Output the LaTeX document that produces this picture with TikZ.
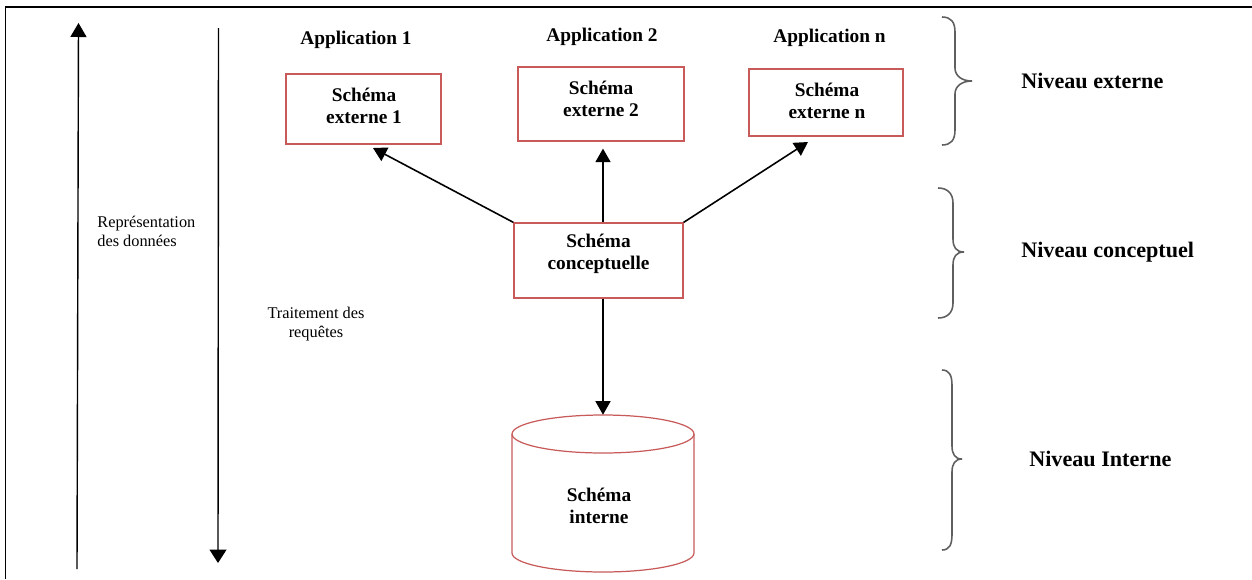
\documentclass[tikz,border=0pt]{standalone}
\usepackage{fontspec}
\setmainfont{Liberation Serif}
\usetikzlibrary{arrows.meta,calc}
\definecolor{boxred}{RGB}{200,90,90}
\definecolor{bracegray}{RGB}{95,95,95}
\tikzset{
  frameline/.style={line width=0.04cm, black},
  schbox/.style={draw=boxred, line width=0.7pt, inner sep=0pt},
  boxtext/.style={font=\fontsize{11}{12.5}\selectfont\bfseries, align=center, inner sep=0pt},
  apptext/.style={font=\fontsize{11}{13}\selectfont\bfseries, inner sep=0pt},
  leveltext/.style={font=\fontsize{12.6}{15}\selectfont\bfseries, anchor=west, inner sep=0pt},
  smalltext/.style={font=\fontsize{9.3}{10.8}\selectfont, inner sep=0pt},
  conn/.style={line width=0.9pt, -{Triangle[width=0.3cm,length=0.27cm]}},
  sideline/.style={line width=0.8pt},
  bracestyle/.style={draw=bracegray, line width=0.9pt},
}
\begin{document}
\begin{tikzpicture}[x=0.02cm, y=-0.02cm]
\useasboundingbox (0,0) rectangle (1252,579);
% frame
\draw[frameline] (5,6.5) -- (1252,6.5);
\draw[frameline] (5.5,6) -- (5.5,579);

% left arrows
\coordinate (upbot) at (77,569);
\coordinate (uptop) at (78.5,23);
\draw[sideline, -{Triangle[width=0.32cm,length=0.28cm]}] (upbot) -- (uptop);
\coordinate (dntop) at (218.5,28);
\coordinate (dnbot) at (218,563);
\draw[sideline, -{Triangle[width=0.34cm,length=0.27cm]}] (dntop) -- (dnbot);

\node[smalltext, anchor=west, align=left] (repr) at (97,231) {Représentation\\des données};
\node[smalltext, align=center] (trait) at (316,324) {Traitement des\\requêtes};

% application labels
\node[apptext] (app1) at (356,40) {Application 1};
\node[apptext] (app2) at (602,37) {Application 2};
\node[apptext] (appn) at (829.5,38) {Application n};

% external schema boxes
\node[schbox, minimum width=3.1cm, minimum height=1.4cm] (ext1) at (363.5,109) {};
\node[boxtext] (ext1t) at (364,106) {Schéma\\externe 1};
\node[schbox, minimum width=3.32cm, minimum height=1.48cm] (ext2) at (601,104) {};
\node[boxtext] (ext2t) at (601,99) {Schéma\\externe 2};
\node[schbox, minimum width=3.08cm, minimum height=1.34cm] (extn) at (826,102.5) {};
\node[boxtext] (extnt) at (827,100.5) {Schéma\\externe n};

% conceptual
\node[schbox, minimum width=3.38cm, minimum height=1.5cm] (conc) at (598.5,260.5) {};
\node[boxtext] (conct) at (598.5,254) {Schéma\\conceptuelle};

% cylinder
\draw[boxred, line width=0.7pt] (603,434) ellipse [x radius=1.82cm, y radius=0.38cm];
\draw[boxred, line width=0.7pt] (512,434) -- (512,553) arc [start angle=180, end angle=360, x radius=1.82cm, y radius=0.38cm] -- (694,434);
\node[inner sep=0pt, minimum width=3.64cm, minimum height=3.14cm] (cyl) at (603,493.5) {};
\node[boxtext] (cylt) at (599,506) {Schéma\\interne};

% connectors
\coordinate (tip1) at (373,148);
\coordinate (tipn) at (808,142);
\draw[conn] (conc.north west) -- (tip1);
\draw[conn, shorten >=0.14cm] (cyl.north |- conc.north) -- (cyl.north |- ext2.south);
\draw[conn] (conc.north east) -- (tipn);
\draw[conn] (cyl.north |- conc.south) -- (cyl.north);

% braces
\draw[bracestyle] (942,17) .. controls (951,17) and (955,22) .. (955,32) -- (955,68)
  .. controls (955,76) and (962,81) .. (972,81)
  .. controls (962,81) and (955,86) .. (955,94) -- (955,130)
  .. controls (955,140) and (951,145) .. (942,145);
\draw[bracestyle] (938,188) .. controls (947,188) and (953,193) .. (953,203) -- (953,239)
  .. controls (953,247) and (956,252) .. (964,252)
  .. controls (956,252) and (953,257) .. (953,265) -- (953,303)
  .. controls (953,313) and (947,318) .. (938,318);
\draw[bracestyle] (942,370) .. controls (949,370) and (952,375) .. (952,385) -- (952,446)
  .. controls (952,454) and (955,459) .. (962,459)
  .. controls (955,459) and (952,464) .. (952,472) -- (952,535)
  .. controls (952,545) and (949,550) .. (942,550);

\node[leveltext] (lvext) at (1021,81) {Niveau externe};
\node[leveltext] (lvcon) at (1021,252) {Niveau conceptuel};
\node[leveltext] (lvint) at (1029,459) {Niveau Interne};
\end{tikzpicture}
\end{document}
